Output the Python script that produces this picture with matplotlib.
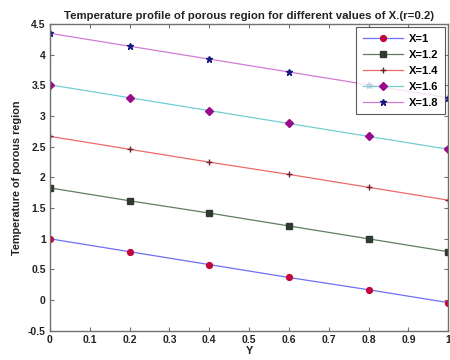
import numpy as np
import matplotlib.pyplot as plt

plt.rcParams['font.family'] = ['Liberation Sans', 'DejaVu Sans']
plt.rcParams['font.weight'] = 'bold'

# Y positions and temperature profiles for each X
y = [0, 0.2, 0.4, 0.6, 0.8, 1.0]
t_x10 = [1.00, 0.79, 0.58, 0.37, 0.17, -0.04]
t_x12 = [1.83, 1.62, 1.42, 1.21, 1.00, 0.79]
t_x14 = [2.67, 2.46, 2.25, 2.05, 1.84, 1.63]
t_x16 = [3.51, 3.30, 3.09, 2.88, 2.67, 2.46]
t_x18 = [4.35, 4.14, 3.93, 3.72, 3.51, 3.30]
labels = ['X=1', 'X=1.2', 'X=1.4', 'X=1.6', 'X=1.8']

fig = plt.figure(figsize=(4.5, 3.6), dpi=100)
ax = fig.add_axes([0.111, 0.081, 0.885, 0.852])

ax.plot(y, t_x10, color='#6f6ff5', lw=0.9, marker='o', ms=4.2,
        mfc='#c0083a', mec='#c0083a', label=labels[0])
ax.plot(y, t_x12, color='#5f7f5f', lw=0.9, marker='s', ms=4.2,
        mfc='#2f3a30', mec='#2f3a30', label=labels[1])
ax.plot(y, t_x14, color='#f06a6a', lw=0.9, marker='+', ms=4, mew=1.0,
        mfc='#6a2030', mec='#6a2030', label=labels[2])
ax.plot(y, t_x16, color='#70cfd0', lw=0.9, marker='D', ms=3.8,
        mfc='#9a0a8a', mec='#9a0a8a', label=labels[3])
ax.plot(y, t_x18, color='#d27ad2', lw=0.9, marker='*', ms=4.5,
        mfc='#151a80', mec='#151a80', label=labels[4])

ax.set_xlim(0, 1)
ax.set_ylim(-0.5, 4.5)
ax.set_xticks(np.arange(0, 1.01, 0.1))
ax.set_xticklabels(['0', '0.1', '0.2', '0.3', '0.4', '0.5', '0.6', '0.7', '0.8', '0.9', '1'])
ax.set_yticks(np.arange(-0.5, 4.51, 0.5))
ax.set_yticklabels(['-0.5', '0', '0.5', '1', '1.5', '2', '2.5', '3', '3.5', '4', '4.5'])
ax.tick_params(direction='in', top=True, right=True, labelsize=7.5, length=3,
               color='#707070', labelcolor='#222222', pad=3)
for s in ax.spines.values():
    s.set_color('#707070')
    s.set_linewidth(1.0)

ax.set_title('Temperature profile of porous region for different values of X.(r=0.2)',
             fontsize=8.2, fontweight='bold', pad=4, color='#222222')
ax.set_xlabel('Y', fontsize=8, fontweight='bold', labelpad=1, color='#222222')
ax.set_ylabel('Temperature of porous region', fontsize=7.8, fontweight='bold',
              labelpad=4, color='#222222')

leg = ax.legend(loc='upper right', fontsize=8, frameon=True, fancybox=False,
                edgecolor='#303030', borderpad=0.55, labelspacing=0.55,
                handlelength=3.6, handletextpad=0.6, borderaxespad=0.3)
leg.get_frame().set_linewidth(0.8)

fig.savefig('out.png', dpi=100)
